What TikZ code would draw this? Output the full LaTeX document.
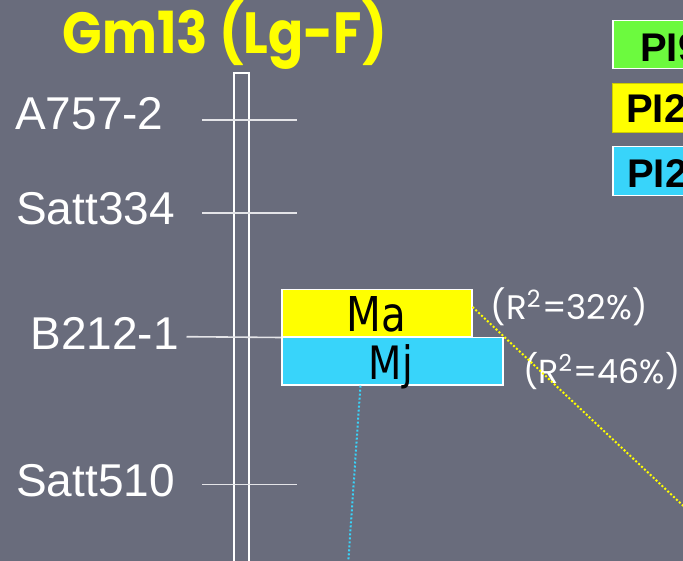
\documentclass[tikz,border=0pt]{standalone}
\usepackage{fontspec}
\setmainfont{Liberation Sans}
\newfontfamily\roundfont{Poppins}
\newfontfamily\boxfont{DejaVu Sans}
\usetikzlibrary{calc}

\definecolor{slate}{RGB}{105,108,124}
\definecolor{qtlyellow}{RGB}{255,255,0}
\definecolor{qtlcyan}{RGB}{56,212,250}
\definecolor{qtlgreen}{RGB}{108,250,62}
\definecolor{tickgray}{RGB}{228,228,232}

\tikzset{
  marker/.style={text=white, font=\fontsize{46}{50}\selectfont, inner sep=0pt},
  tickline/.style={draw=tickgray, line width=1.6pt},
  chromo/.style={draw=white, line width=2pt},
  qtlbox/.style={draw=white, line width=1.5pt, anchor=north west, inner sep=0pt},
  qtltext/.style={text=black, inner sep=0pt, anchor=base},
  rsq/.style={text=white, inner sep=0pt, anchor=west},
  legendbox/.style={line width=1.5pt, anchor=north west, inner sep=0pt},
  legendtext/.style={text=black, font=\bfseries\fontsize{40}{44}\selectfont, inner sep=0pt, anchor=base west},
  link/.style={line width=2pt, dash pattern=on 2pt off 2pt}
}

\begin{document}
\begin{tikzpicture}[x=1pt,y=-1pt]
  \useasboundingbox (0,0) rectangle (683,561);
  \fill[slate] (0,0) rectangle (683,561);
  \clip (0,0) rectangle (683,561);

  % title
  \node[inner sep=0pt, text=qtlyellow] (title) at (225,35)
    {\scalebox{1}[1.12]{\resizebox{324pt}{!}{\roundfont\bfseries Gm13 (Lg-F)}}};

  % chromosome bar, open at the bottom
  \draw[chromo] (233.5,570) -- (233.5,73.5) -- (249,73.5) -- (249,570);

  % marker names
  \node[marker, anchor=base west] (m1) at (15,130) {A757-2};
  \node[marker, anchor=base west] (m2) at (16,225) {Satt334};
  \node[marker, anchor=base east] (m3) at (179,349.5) {B212-1};
  \node[marker, anchor=base west] (m4) at (16,496) {Satt510};

  % QTL boxes
  \node[qtlbox, fill=qtlyellow, minimum width=190pt, minimum height=47pt] (ma) at (281,289) {};
  \node[qtlbox, fill=qtlcyan, minimum width=221pt, minimum height=47.5pt] (mj) at (281,336.7) {};
  \node[qtltext] (malab) at (376,331.5) {\scalebox{0.84}[1]{\boxfont\fontsize{48}{50}\selectfont Ma}};
  \node[qtltext] (mjlab) at (391,380) {\scalebox{0.84}[1]{\boxfont\fontsize{46}{50}\selectfont Mj}};

  % tick marks
  \coordinate (t1a) at (202,120.3); \coordinate (t1b) at (297,120.3);
  \coordinate (t2a) at (202,213.3); \coordinate (t2b) at (297,213.3);
  \coordinate (t4a) at (202,484.3); \coordinate (t4b) at (297,484.3);
  \draw[tickline] (t1a) -- (t1b);
  \draw[tickline] (t2a) -- (t2b);
  \draw[tickline] (t4a) -- (t4b);
  \draw[tickline] (186.5,336.7) -- (ma.south west);

  % explained variance
  \node[rsq] (r1) at (490.5,307)
    {\resizebox{157pt}{!}{\roundfont (R\textsuperscript{2}=32\%)}};
  \node[rsq] (r2) at (523,371)
    {\resizebox{157pt}{!}{\roundfont (R\textsuperscript{2}=46\%)}};

  % dotted links leaving the boxes
  \coordinate (yfar) at (729,549);
  \coordinate (cfar) at (347,580);
  \draw[link, qtlyellow] ($(ma.north east)!0.37!(ma.south east)$) -- (yfar);
  \draw[link, qtlcyan] ($(mj.south west)!0.357!(mj.south east)$) -- (cfar);

  % legend
  \node[legendbox, draw=white, fill=qtlgreen, minimum width=100pt, minimum height=48pt] (lg1) at (612,20) {};
  \node[legendbox, draw=qtlyellow!80!black, line width=0.6pt, fill=qtlyellow, minimum width=100pt, minimum height=49pt] (lg2) at (612,83) {};
  \node[legendbox, draw=white, fill=qtlcyan, minimum width=100pt, minimum height=49pt] (lg3) at (612,146) {};
  \node[legendtext] (lt1) at (640,62) {PI9};
  \node[legendtext] (lt2) at (626,123) {PI2};
  \node[legendtext] (lt3) at (627,188) {PI2};
\end{tikzpicture}
\end{document}
